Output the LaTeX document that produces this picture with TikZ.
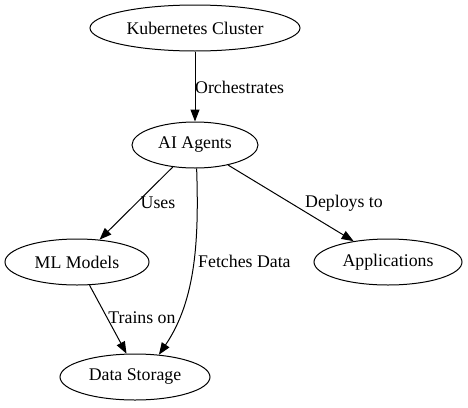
\documentclass[tikz,border=0pt]{standalone}
\usepackage{fontspec}
\setmainfont{Liberation Serif}
\usetikzlibrary{shapes.geometric,arrows.meta}
\begin{document}
\begin{tikzpicture}[x=1pt,y=-1pt,
  every node/.style={font=\fontsize{17.8pt}{20pt}\selectfont},
  ell/.style={draw,ellipse,inner sep=0pt,line width=1pt,minimum height=46pt},
  edge/.style={draw,line width=1pt,-{Triangle[length=12pt,width=9pt]}},
  lab/.style={inner sep=0pt}]
\useasboundingbox (0,0) rectangle (468,407);
\node[ell,minimum width=210pt] (k8s) at (195,28) {Kubernetes Cluster};
\node[ell,minimum width=126pt] (ai) at (195,145) {AI Agents};
\node[ell,minimum width=144pt] (ml) at (77,262) {ML Models};
\node[ell,minimum width=148pt] (app) at (388,262) {Applications};
\node[ell,minimum width=150pt] (ds) at (135,377) {Data Storage};
\draw[edge] (k8s) -- (ai);
\draw[edge] (ai) -- (ml);
\draw[edge] (ai) -- (app);
\draw[edge] (ai.-86) .. controls (199,240) and (196,300) .. (ds.43);
\draw[edge] (ml) -- (ds.110);
\node[lab,anchor=west] (l1) at (195,87) {Orchestrates};
\node[lab] (l2) at (158,203) {Uses};
\node[lab] (l3) at (344,203) {Deploys to};
\node[lab,anchor=west] (l4) at (198,261) {Fetches Data};
\node[lab] (l5) at (142,318) {Trains on};
\end{tikzpicture}
\end{document}
